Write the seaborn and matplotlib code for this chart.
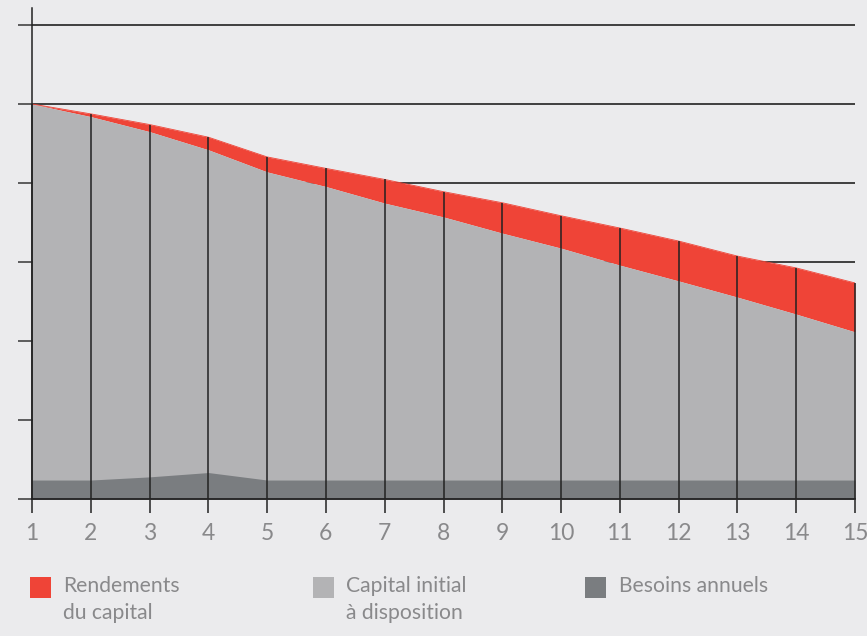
import numpy as np
import pandas as pd
import seaborn as sns
import matplotlib
matplotlib.use("Agg")
import matplotlib.pyplot as plt
from matplotlib.patches import Rectangle

# ---- data ----
years = list(range(1, 16))
besoins = [4.8, 4.8, 5.6, 6.7, 4.8, 4.8, 4.8, 4.8, 4.8, 4.8, 4.8, 4.8, 4.8, 4.8, 4.8]
capital = [100.0, 96.8, 93.0, 88.4, 82.8, 79.1, 74.9, 71.4, 67.3, 63.5, 59.2, 55.2, 51.1, 46.8, 42.3]
rendements = [0.0, 0.7, 1.8, 3.2, 3.8, 4.6, 6.0, 6.4, 7.7, 8.2, 9.4, 10.1, 10.4, 11.7, 12.4]
yticks = [0, 20, 40, 60, 80, 100, 120]
legend_labels = ["Rendements\ndu capital", "Capital initial\nà disposition", "Besoins annuels"]

RED = "#ef4437"
LIGHT = "#b3b3b5"
DARK = "#7a7d80"
BG = "#ebebed"
TXT = "#89898b"
LINE = "#222222"

df = pd.DataFrame({"year": years, "besoins": besoins, "capital": capital,
                   "rendements": rendements})
df["total"] = df["capital"] + df["rendements"]

sns.set_theme(style="white")
plt.rcParams["font.family"] = ["Lato", "DejaVu Sans"]

fig = plt.figure(figsize=(8.67, 6.36), dpi=100, facecolor=BG)
ax = fig.add_axes([32 / 867, 1 - 499 / 636, (855 - 32) / 867, (499 - 8) / 636])
ax.set_facecolor(BG)

# areas
ax.fill_between(df["year"], df["capital"], df["total"], color=RED, lw=0, zorder=2)
ax.fill_between(df["year"], 0, df["capital"], color=LIGHT, lw=0, zorder=2)
ax.fill_between(df["year"], 0, df["besoins"], color=DARK, lw=0, zorder=2)
sns.lineplot(data=df, x="year", y="total", color=RED, lw=0.6, ax=ax, zorder=2)

# vertical lines at each year
ax.vlines(df["year"], 0, df["total"], color=LINE, lw=1.1, zorder=3, clip_on=False)

ax.set_xlim(1, 15)
ax.set_ylim(0, 124.3)
ax.set_xticks(years)
ax.set_xticklabels([str(y) for y in years])
ax.set_yticks(yticks)
ax.set_yticklabels([])
ax.set_xlabel("")
ax.set_ylabel("")

ax.yaxis.grid(True, color=LINE, lw=1.2, zorder=0)
ax.set_axisbelow(True)
for s in ["top", "right"]:
    ax.spines[s].set_visible(False)
ax.spines["left"].set_color(LINE)
ax.spines["left"].set_linewidth(1.1)
ax.spines["bottom"].set_color(LINE)
ax.spines["bottom"].set_linewidth(1.3)
ax.spines["bottom"].set_zorder(4)

ax.tick_params(axis="x", direction="out", length=10, width=1.1, color=LINE,
               labelsize=16.5, labelcolor=TXT, pad=7, bottom=True)
ax.tick_params(axis="y", direction="out", length=10, width=1.2, color="#444444",
               left=True)
for t in ax.xaxis.get_major_ticks():
    t.tick1line.set_clip_on(False)

# legend (manual)
W, H = 867, 636
sq = 21
positions = [(30, 63), (313, 346), (585, 619)]
colors = [RED, LIGHT, DARK]
for (xs, xt), c, lab in zip(positions, colors, legend_labels):
    fig.add_artist(Rectangle((xs / W, 1 - 598 / H), sq / W, sq / H,
                             transform=fig.transFigure, color=c, lw=0))
    fig.text(xt / W, 1 - 576 / H, lab, ha="left", va="top", fontsize=15.2,
             color=TXT, linespacing=1.42)

fig.savefig("out.png", dpi=100, facecolor=BG)
